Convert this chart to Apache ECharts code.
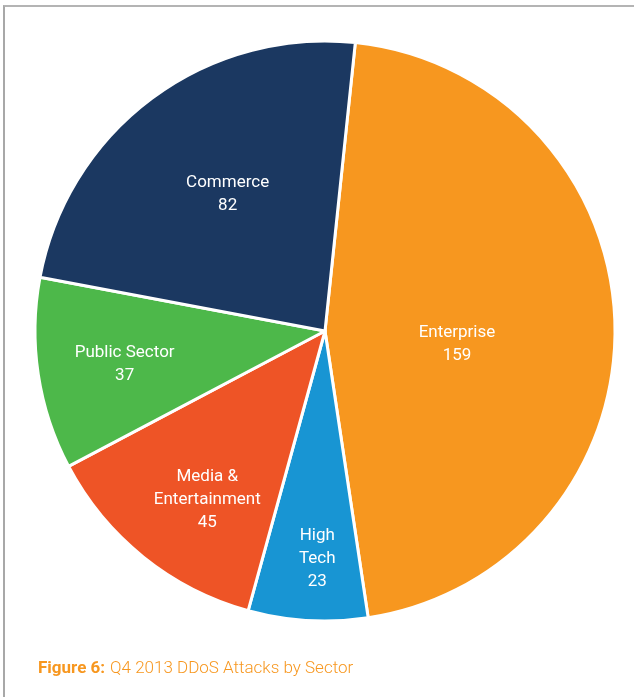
<!DOCTYPE html>
<html>
<head>
<meta charset="utf-8">
<script src="https://cdn.jsdelivr.net/npm/echarts@6/dist/echarts.min.js"></script>
<style>
html,body{margin:0;padding:0;background:#fff;}
#frame{position:absolute;left:3px;top:5px;width:640px;height:700px;border-left:2px solid #a8a8a8;border-top:2px solid #b4b4b4;}
#chart{position:absolute;left:0;top:0;width:634px;height:697px;}
</style>
</head>
<body>
<div id="frame"></div>
<div id="chart"></div>
<script>
var categories = ['Enterprise', 'High\nTech', 'Media &\nEntertainment', 'Public Sector', 'Commerce'];
var values = [159, 23, 45, 37, 82];
var colors = ['#F7971F', '#1895D3', '#EE5426', '#4DB84A', '#1B3861'];
var labelShift = [[-16, 17], [1, 80], [-25, 53], [-54, 11], [-9, -18]];

var chart = echarts.init(document.getElementById('chart'), null, {renderer: 'canvas'});
chart.setOption({
  animation: false,
  title: {
    left: 33, top: 655,
    text: '{b|Figure 6:} {r|Q4 2013 DDoS Attacks by Sector}',
    textStyle: {
      rich: {
        b: {fontFamily: 'Roboto', fontWeight: 'bold', fontSize: 17, color: '#F7971F'},
        r: {fontFamily: 'Roboto', fontWeight: 300, fontSize: 17, color: '#F7971F'}
      }
    }
  },
  series: [{
    type: 'pie',
    center: [325, 331],
    radius: [0, 290],
    startAngle: 84,
    clockwise: true,
    itemStyle: {borderColor: '#fff', borderWidth: 3},
    label: {
      show: true,
      position: 'inside',
      formatter: '{b}\n{c}',
      color: '#fff',
      fontFamily: 'Roboto',
      fontSize: 17,
      lineHeight: 23,
      align: 'center'
    },
    labelLayout: function (p) {
      var s = labelShift[p.dataIndex];
      return {dx: s[0], dy: s[1]};
    },
    emphasis: {disabled: true},
    data: categories.map(function (c, i) {
      return {name: c, value: values[i], itemStyle: {color: colors[i]}};
    })
  }]
});
</script>
</body>
</html>
